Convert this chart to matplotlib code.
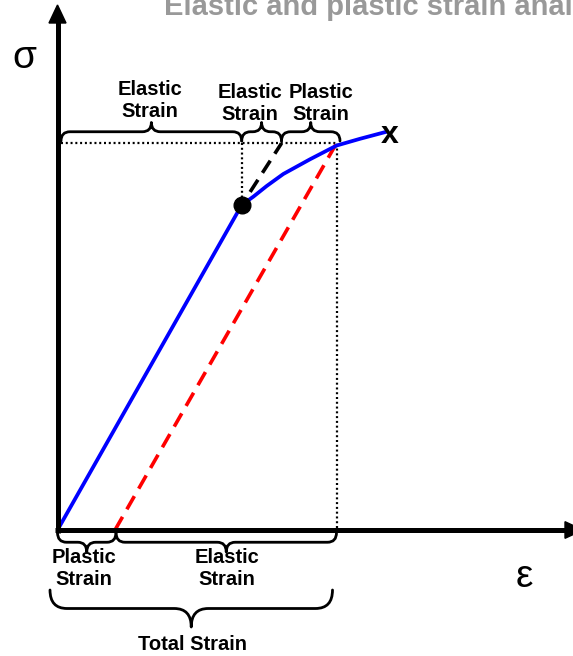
import matplotlib
matplotlib.use("Agg")
import matplotlib.pyplot as plt
from matplotlib.path import Path
from matplotlib.patches import PathPatch, Polygon

plt.rcParams['font.family'] = ['Liberation Sans', 'DejaVu Sans']

# ---- data (strain / stress in arbitrary units) ----
curve_strain = [0, 184.2, 195.8, 209.2, 225.8, 252.5, 279.2, 302.5, 329.2]
curve_stress = [0, 325, 333.3, 344, 356, 370.7, 384.5, 391.2, 398.3]
yield_strain, yield_stress = 184.2, 325
elastic_ext_strain = 224          # elastic line extended to unload stress
unload_strain, unload_stress = 279, 386.7
plastic_strain = 57.5             # permanent set after unloading
fracture_strain, fracture_stress = 332.5, 387

title = "Elastic and plastic strain analysis"
top_labels = ["Elastic\nStrain", "Elastic\nStrain", "Plastic\nStrain"]
bottom_labels = ["Plastic\nStrain", "Elastic\nStrain"]
total_label = "Total Strain"

fig = plt.figure(figsize=(5.73, 6.56), dpi=100)
ax = fig.add_axes([0, 0, 1, 1])
ax.set_xlim(-57.5, 515.5)
ax.set_ylim(-126, 530)
ax.axis('off')

# axes with arrows
ax.plot([0, 0], [-2.5, 508], color='black', lw=3.6, solid_capstyle='butt', zorder=5)
ax.plot([-2.5, 508], [0, 0], color='black', lw=3.6, solid_capstyle='butt', zorder=5)
ax.add_patch(Polygon([(-8.5, 507), (8.5, 507), (0, 525)], closed=True, color='black', zorder=5))
ax.add_patch(Polygon([(507.5, -8.3), (507.5, 8.3), (525.5, 0)], closed=True, color='black', zorder=5))

# dotted guides
dot_kw = dict(color='black', lw=1.6, linestyle=(0, (0.9, 1.25)), zorder=2)
ax.plot([3.5, unload_strain], [unload_stress, unload_stress], **dot_kw)
ax.plot([yield_strain, yield_strain], [unload_stress, yield_stress], **dot_kw)
ax.plot([unload_strain, unload_strain], [2.5, unload_stress], **dot_kw)

# unloading line (red) and elastic extension (black)
ax.plot([plastic_strain, unload_strain], [0, unload_stress], color='#ff0000', lw=2.6,
        linestyle=(0, (4.2, 2.4)), zorder=3)
ax.plot([yield_strain, elastic_ext_strain], [yield_stress, unload_stress], color='black', lw=2.6,
        linestyle=(2, (4, 2.3)), zorder=3)

# stress-strain curve
ax.plot(curve_strain, curve_stress, color='#0000ff', lw=2.7, zorder=4,
        solid_capstyle='butt', solid_joinstyle='round')
ax.plot([yield_strain], [yield_stress], 'o', color='black', ms=12, zorder=6)
ax.text(fracture_strain, fracture_stress, 'x', ha='center', va='baseline',
        fontsize=23, fontweight='bold', zorder=6)


def brace(x0, x1, y, h, r, up=True, lw=2.0):
    s = 1 if up else -1
    xm = (x0 + x1) / 2
    ym = y + s * h / 2
    yt = y + s * h
    verts = [(x0, y), (x0, ym), (x0 + r, ym), (xm - r, ym), (xm, ym), (xm, yt),
             (xm, ym), (xm + r, ym), (x1 - r, ym), (x1, ym), (x1, y)]
    codes = [Path.MOVETO, Path.CURVE3, Path.CURVE3, Path.LINETO, Path.CURVE3, Path.CURVE3,
             Path.CURVE3, Path.CURVE3, Path.LINETO, Path.CURVE3, Path.CURVE3]
    ax.add_patch(PathPatch(Path(verts, codes), fill=False, lw=lw, color='black',
                           capstyle='round', joinstyle='round', zorder=5))


# top braces
top_edges = [3.5, yield_strain, elastic_ext_strain, unload_strain + 3.5]
for a, b in zip(top_edges[:-1], top_edges[1:]):
    brace(a, b, 389, 18.5, min(9, (b - a) / 4.5), up=True)
# bottom braces
bot_edges = [0, plastic_strain + 1, unload_strain]
for a, b in zip(bot_edges[:-1], bot_edges[1:]):
    brace(a, b, -2.5, 19.5, min(9, (b - a) / 4.5), up=False)
brace(-7.5, unload_strain - 4, -60, 37, 17, up=False)

# va='baseline' on multi-line text aligns the last line's baseline
lab_kw = dict(ha='center', va='baseline', fontsize=14.5, fontweight='bold',
              linespacing=1.18, zorder=6)
for (x, y), t in zip([(92.5, 413), (192.5, 410), (263.5, 410)], top_labels):
    ax.text(x, y, t, **lab_kw)
for (x, y), t in zip([(26.5, -55), (169.5, -55)], bottom_labels):
    ax.text(x, y, t, **lab_kw)
ax.text(134.5, -120, total_label, **lab_kw)

ax.text(-33, 462.5, 'σ', ha='center', va='baseline', fontsize=28)
ax.text(466.5, -57, 'ε', ha='center', va='baseline', fontsize=28)

ax.text(106.5, 515, title, ha='left', va='baseline', fontsize=21, fontweight='bold',
        color='#999999')

fig.savefig('out.png', dpi=100)
